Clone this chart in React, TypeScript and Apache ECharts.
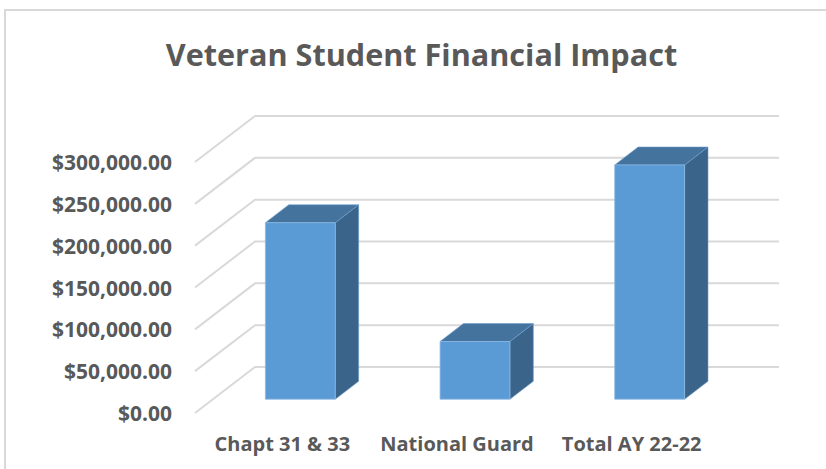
import React, { useEffect, useRef } from "react";
import * as echarts from "echarts";

const categories = ["Chapt 31 & 33", "National Guard", "Total AY 22-22"];
const amounts = [211000, 69000, 280000];
const yTicks = [0, 50000, 100000, 150000, 200000, 250000, 300000];
const chartTitle = "Veteran Student Financial Impact";

const DEPTH_X = 60;
const DEPTH_Y = -46;
const BAR_F0 = 0.3;
const BAR_F1 = 0.69;
const TEXT = "#595959";
const FONT = "'Open Sans', 'Noto Sans', sans-serif";

export default function App() {
  const ref = useRef<HTMLDivElement>(null);
  useEffect(() => {
    if (!ref.current) return;
    const chart = echarts.init(ref.current, null, { renderer: "svg" });
    const option: any = {
      animation: false,
      backgroundColor: "#ffffff",
      graphic: [
        {
          type: "rect",
          shape: { x: 5, y: 10, width: 900, height: 600 },
          style: { fill: "none", stroke: "#d9d9d9", lineWidth: 2 },
          z: 0,
        },
        {
          type: "text",
          x: 421.5,
          y: 54,
          style: {
            text: chartTitle,
            textAlign: "center",
            textVerticalAlign: "middle",
            fontFamily: FONT,
            fontWeight: "bold",
            fontSize: 30.6,
            fill: TEXT,
          },
        },
      ],
      grid: { left: 195, right: 107, top: 162, bottom: 56 },
      xAxis: {
        type: "category",
        data: categories,
        axisLine: { show: false },
        axisTick: { show: false },
        splitLine: { show: false },
        axisLabel: {
          interval: 0,
          margin: 20,
          color: TEXT,
          fontFamily: FONT,
          fontWeight: "bold",
          fontSize: 20,
          lineHeight: 20,
        },
      },
      yAxis: {
        type: "value",
        min: 0,
        max: 300000,
        interval: 50000,
        axisLine: { show: false },
        axisTick: { show: false },
        splitLine: { show: false },
        axisLabel: {
          margin: 23,
          color: TEXT,
          fontFamily: FONT,
          fontWeight: "bold",
          fontSize: 21,
          formatter: (v: number) =>
            "$" + v.toLocaleString("en-US", { minimumFractionDigits: 2, maximumFractionDigits: 2 }),
        },
      },
      series: [
        {
          type: "custom",
          z: 1,
          silent: true,
          clip: false,
          data: yTicks.map((t) => [0, t]),
          renderItem: (params: any, api: any) => {
            const cs = params.coordSys;
            const y = api.coord([0, api.value(1)])[1];
            return {
              type: "polyline",
              shape: {
                points: [
                  [cs.x, y],
                  [cs.x + DEPTH_X, y + DEPTH_Y],
                  [cs.x + cs.width + DEPTH_X, y + DEPTH_Y],
                ],
              },
              style: { stroke: "#d9d9d9", lineWidth: 2, fill: "none" },
            };
          },
        },
        {
          type: "custom",
          z: 2,
          clip: false,
          data: amounts.map((v, i) => [i, v]),
          renderItem: (params: any, api: any) => {
            const base = api.coord([api.value(0), 0]);
            const top = api.coord([api.value(0), api.value(1)]);
            const band = api.size([1, 0])[0];
            const w = band * 0.4;
            const s0x = DEPTH_X * BAR_F0;
            const s0y = DEPTH_Y * BAR_F0;
            const dx = DEPTH_X * (BAR_F1 - BAR_F0);
            const dy = DEPTH_Y * (BAR_F1 - BAR_F0);
            const xl = base[0] - w / 2 + s0x;
            const xr = xl + w;
            const yb = base[1] + s0y;
            const yt = top[1] + s0y;
            return {
              type: "group",
              children: [
                {
                  type: "polygon",
                  shape: {
                    points: [
                      [xr, yt],
                      [xr + dx, yt + dy],
                      [xr + dx, yb + dy],
                      [xr, yb],
                    ],
                  },
                  style: { fill: "#3a6489", stroke: "#6f9fcf", lineWidth: 0.6 },
                },
                {
                  type: "polygon",
                  shape: {
                    points: [
                      [xl, yt],
                      [xr, yt],
                      [xr + dx, yt + dy],
                      [xl + dx, yt + dy],
                    ],
                  },
                  style: { fill: "#44739e", stroke: "#6f9fcf", lineWidth: 0.6 },
                },
                {
                  type: "rect",
                  shape: { x: xl, y: yt, width: w, height: yb - yt },
                  style: { fill: "#5b9bd5", stroke: "#8db7e2", lineWidth: 0.8 },
                },
              ],
            };
          },
        },
      ],
    };
    chart.setOption(option);
    return () => chart.dispose();
  }, []);
  return (
    <div
      ref={ref}
      style={{ position: "fixed", left: 0, top: 0, width: 826, height: 469 }}
    />
  );
}
